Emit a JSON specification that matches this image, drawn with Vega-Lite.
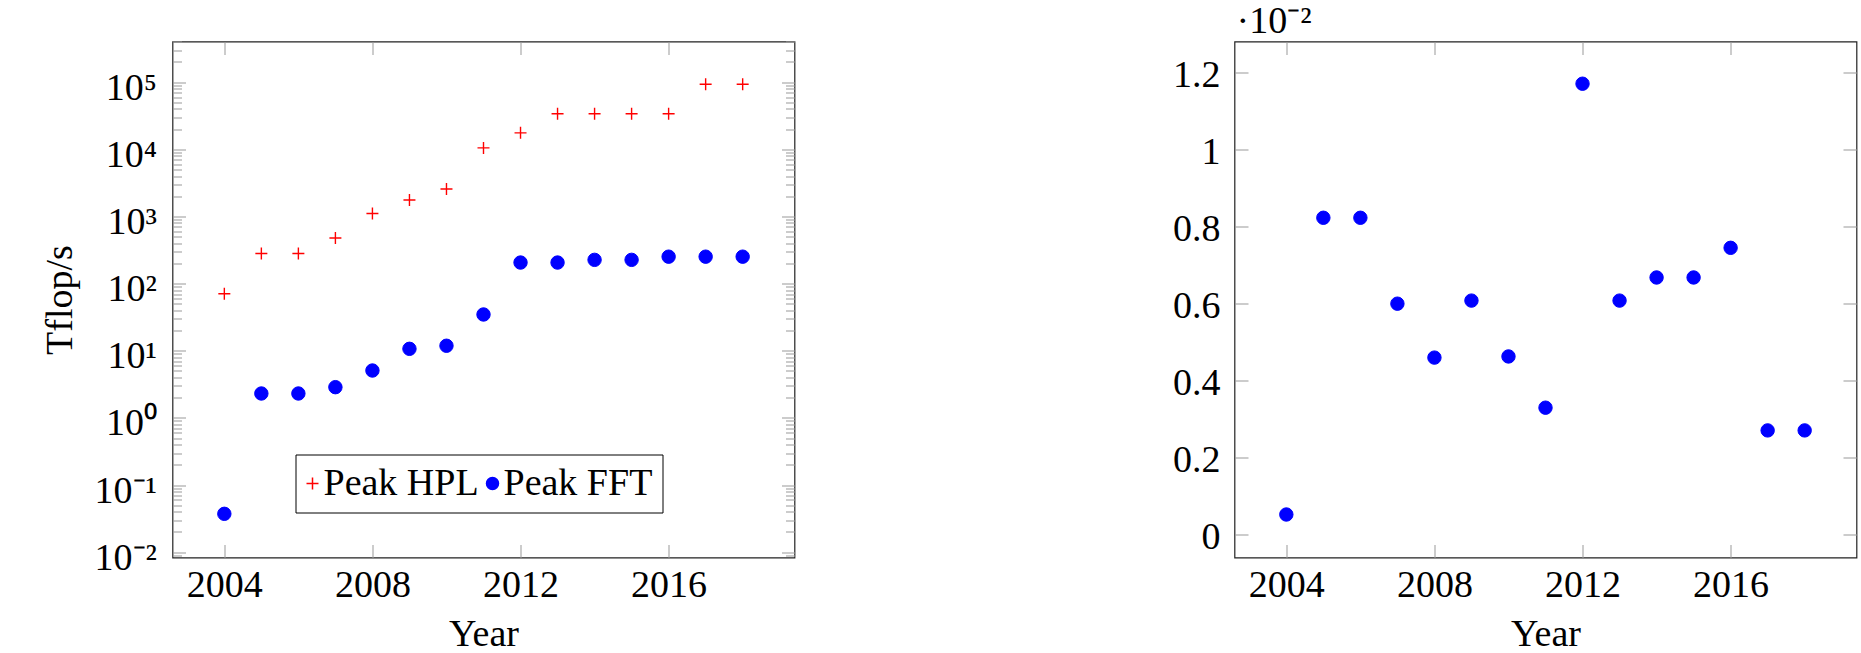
{
  "$schema": "https://vega.github.io/schema/vega-lite/v6.json",
  "background": "white",
  "autosize": {"type": "pad"},
  "padding": {"left": 40.5, "top": 1.5, "right": 2, "bottom": 0},
  "config": {
    "view": {"stroke": "#222222", "strokeWidth": 1.2},
    "font": "Liberation Serif",
    "axis": {"grid": false, "domain": false, "labelFont": "Liberation Serif", "labelFontSize": 38, "labelColor": "black", "titleFont": "Liberation Serif", "titleFontSize": 38, "titleFontWeight": "normal", "titleColor": "black", "tickColor": "#999999", "tickWidth": 1, "labelOverlap": false, "labelFlush": false}
  },
  "datasets": {
    "tflops": [
      {"year": 2004, "series": "Peak HPL", "tflops": 70.72},
      {"year": 2005, "series": "Peak HPL", "tflops": 280.6},
      {"year": 2006, "series": "Peak HPL", "tflops": 280.6},
      {"year": 2007, "series": "Peak HPL", "tflops": 478.2},
      {"year": 2008, "series": "Peak HPL", "tflops": 1105},
      {"year": 2009, "series": "Peak HPL", "tflops": 1759},
      {"year": 2010, "series": "Peak HPL", "tflops": 2566},
      {"year": 2011, "series": "Peak HPL", "tflops": 10510},
      {"year": 2012, "series": "Peak HPL", "tflops": 17590},
      {"year": 2013, "series": "Peak HPL", "tflops": 33860},
      {"year": 2014, "series": "Peak HPL", "tflops": 33860},
      {"year": 2015, "series": "Peak HPL", "tflops": 33860},
      {"year": 2016, "series": "Peak HPL", "tflops": 33860},
      {"year": 2017, "series": "Peak HPL", "tflops": 93010},
      {"year": 2018, "series": "Peak HPL", "tflops": 93010},
      {"year": 2004, "series": "Peak FFT", "tflops": 0.0373},
      {"year": 2005, "series": "Peak FFT", "tflops": 2.31},
      {"year": 2006, "series": "Peak FFT", "tflops": 2.31},
      {"year": 2007, "series": "Peak FFT", "tflops": 2.87},
      {"year": 2008, "series": "Peak FFT", "tflops": 5.08},
      {"year": 2009, "series": "Peak FFT", "tflops": 10.69},
      {"year": 2010, "series": "Peak FFT", "tflops": 11.88},
      {"year": 2011, "series": "Peak FFT", "tflops": 34.7},
      {"year": 2012, "series": "Peak FFT", "tflops": 206},
      {"year": 2013, "series": "Peak FFT", "tflops": 206},
      {"year": 2014, "series": "Peak FFT", "tflops": 226},
      {"year": 2015, "series": "Peak FFT", "tflops": 226},
      {"year": 2016, "series": "Peak FFT", "tflops": 252},
      {"year": 2017, "series": "Peak FFT", "tflops": 252},
      {"year": 2018, "series": "Peak FFT", "tflops": 252}
    ],
    "ratio": [
      {"year": 2004, "ratio": 0.000527},
      {"year": 2005, "ratio": 0.00823},
      {"year": 2006, "ratio": 0.00823},
      {"year": 2007, "ratio": 0.0060},
      {"year": 2008, "ratio": 0.00460},
      {"year": 2009, "ratio": 0.00608},
      {"year": 2010, "ratio": 0.00463},
      {"year": 2011, "ratio": 0.00330},
      {"year": 2012, "ratio": 0.01171},
      {"year": 2013, "ratio": 0.00608},
      {"year": 2014, "ratio": 0.00668},
      {"year": 2015, "ratio": 0.00668},
      {"year": 2016, "ratio": 0.00745},
      {"year": 2017, "ratio": 0.00271},
      {"year": 2018, "ratio": 0.00271}
    ]
  },
  "spacing": 440,
  "bounds": "flush",
  "hconcat": [
    {
      "width": 622,
      "height": 516,
      "data": {"name": "tflops"},
      "resolve": {"axis": {"x": "independent", "y": "independent"}},
      "layer": [
        {
          "transform": [{"filter": "datum.series === 'Peak HPL'"}],
          "mark": {"type": "point", "filled": true, "opacity": 1, "size": 144, "strokeWidth": 1.4},
          "encoding": {
            "x": {"field": "year", "type": "quantitative",
              "scale": {"domain": [2002.6, 2019.4], "nice": false, "zero": false},
              "axis": {"orient": "bottom", "values": [2004, 2008, 2012, 2016], "format": "d", "tickSize": -13, "labelPadding": 22, "labelBaseline": "top", "title": "Year", "titleY": 88, "titleBaseline": "alphabetic"}},
            "y": {"field": "tflops", "type": "quantitative",
              "scale": {"type": "log", "domain": [0.00834, 403600], "nice": false},
              "axis": {"orient": "left", "values": [0.01, 0.1, 1, 10, 100, 1000, 10000, 100000], "labelExpr": "['10⁻²','10⁻¹','10⁰','10¹','10²','10³','10⁴','10⁵'][round(log(datum.value)/LN10)+2]", "tickSize": -13, "labelPadding": 29, "labelBaseline": "alphabetic", "labelOffset": 17, "title": "Tflop/s", "titleX": -101, "titleY": 258, "titleAngle": 270, "titleAlign": "center", "titleBaseline": "alphabetic"}},
            "fill": {"field": "series", "type": "nominal",
              "scale": {"domain": ["Peak HPL", "Peak FFT"], "range": ["#ff0000", "#0000ff"]},
              "legend": {"title": null, "orient": "none", "legendX": 123, "legendY": 413, "direction": "horizontal", "strokeColor": "black", "fillColor": "white", "padding": 10, "labelFont": "Liberation Serif", "labelFontSize": 38, "labelColor": "black", "symbolSize": 144, "symbolStrokeWidth": 1.5, "symbolOffset": -12, "labelOffset": -8, "columnPadding": 4, "cornerRadius": 0, "labelLimit": 0}},
            "stroke": {"field": "series", "type": "nominal",
              "scale": {"domain": ["Peak HPL", "Peak FFT"], "range": ["#ff0000", "#0000ff"]},
              "legend": {"title": null, "orient": "none", "legendX": 123, "legendY": 413, "direction": "horizontal", "strokeColor": "black", "fillColor": "white", "padding": 10, "labelFont": "Liberation Serif", "labelFontSize": 38, "labelColor": "black", "symbolSize": 144, "symbolStrokeWidth": 1.5, "symbolOffset": -12, "labelOffset": -8, "columnPadding": 4, "cornerRadius": 0, "labelLimit": 0}},
            "shape": {"field": "series", "type": "nominal",
              "scale": {"domain": ["Peak HPL", "Peak FFT"], "range": ["M-1,0H1M0,-1V1", "circle"]},
              "legend": {"title": null, "orient": "none", "legendX": 123, "legendY": 413, "direction": "horizontal", "strokeColor": "black", "fillColor": "white", "padding": 10, "labelFont": "Liberation Serif", "labelFontSize": 38, "labelColor": "black", "symbolSize": 144, "symbolStrokeWidth": 1.5, "symbolOffset": -12, "labelOffset": -8, "columnPadding": 4, "cornerRadius": 0, "labelLimit": 0}}
          }
        },
        {
          "transform": [{"filter": "datum.series === 'Peak FFT'"}],
          "mark": {"type": "point", "filled": true, "opacity": 1, "size": 180, "strokeWidth": 1},
          "encoding": {
            "x": {"field": "year", "type": "quantitative",
              "scale": {"domain": [2002.6, 2019.4], "nice": false, "zero": false},
              "axis": {"orient": "top", "values": [2004, 2008, 2012, 2016], "labels": false, "tickSize": -13, "title": null, "minExtent": 0, "maxExtent": 0}},
            "y": {"field": "tflops", "type": "quantitative",
              "scale": {"type": "log", "domain": [0.00834, 403600], "nice": false},
              "axis": {"orient": "right", "values": [0.01, 0.1, 1, 10, 100, 1000, 10000, 100000], "labels": false, "tickSize": -13, "title": null, "minExtent": 0, "maxExtent": 0}},
            "fill": {"field": "series", "type": "nominal",
              "scale": {"domain": ["Peak HPL", "Peak FFT"], "range": ["#ff0000", "#0000ff"]}},
            "stroke": {"field": "series", "type": "nominal",
              "scale": {"domain": ["Peak HPL", "Peak FFT"], "range": ["#ff0000", "#0000ff"]}},
            "shape": {"field": "series", "type": "nominal",
              "scale": {"domain": ["Peak HPL", "Peak FFT"], "range": ["M-1,0H1M0,-1V1", "circle"]}}
          }
        },
        {
          "mark": {"type": "point", "opacity": 0},
          "encoding": {
            "x": {"field": "year", "type": "quantitative", "scale": {"domain": [2002.6, 2019.4], "nice": false, "zero": false}, "axis": null},
            "y": {"field": "tflops", "type": "quantitative",
              "scale": {"type": "log", "domain": [0.00834, 403600], "nice": false},
              "axis": {"orient": "left", "values": [0.009, 0.02, 0.03, 0.04, 0.05, 0.06, 0.07, 0.08, 0.09, 0.2, 0.3, 0.4, 0.5, 0.6, 0.7, 0.8, 0.9, 2, 3, 4, 5, 6, 7, 8, 9, 20, 30, 40, 50, 60, 70, 80, 90, 200, 300, 400, 500, 600, 700, 800, 900, 2000, 3000, 4000, 5000, 6000, 7000, 8000, 9000, 20000, 30000, 40000, 50000, 60000, 70000, 80000, 90000, 200000, 300000, 400000], "labels": false, "tickSize": -9, "title": null, "minExtent": 0, "maxExtent": 0}}
          }
        },
        {
          "mark": {"type": "point", "opacity": 0},
          "encoding": {
            "x": {"field": "year", "type": "quantitative", "scale": {"domain": [2002.6, 2019.4], "nice": false, "zero": false}, "axis": null},
            "y": {"field": "tflops", "type": "quantitative",
              "scale": {"type": "log", "domain": [0.00834, 403600], "nice": false},
              "axis": {"orient": "right", "values": [0.009, 0.02, 0.03, 0.04, 0.05, 0.06, 0.07, 0.08, 0.09, 0.2, 0.3, 0.4, 0.5, 0.6, 0.7, 0.8, 0.9, 2, 3, 4, 5, 6, 7, 8, 9, 20, 30, 40, 50, 60, 70, 80, 90, 200, 300, 400, 500, 600, 700, 800, 900, 2000, 3000, 4000, 5000, 6000, 7000, 8000, 9000, 20000, 30000, 40000, 50000, 60000, 70000, 80000, 90000, 200000, 300000, 400000], "labels": false, "tickSize": -9, "title": null, "minExtent": 0, "maxExtent": 0}}
          }
        }
      ]
    },
    {
      "width": 622,
      "height": 516,
      "data": {"name": "ratio"},
      "title": {"text": "·10⁻²", "anchor": "start", "frame": "group", "baseline": "alphabetic", "offset": -30, "dx": 2, "fontSize": 38, "font": "Liberation Serif", "fontWeight": "normal", "color": "black"},
      "resolve": {"axis": {"x": "independent", "y": "independent"}},
      "layer": [
        {
          "mark": {"type": "point", "filled": true, "opacity": 1, "size": 180, "strokeWidth": 1, "color": "#0000ff", "stroke": "#0000ff"},
          "encoding": {
            "x": {"field": "year", "type": "quantitative",
              "scale": {"domain": [2002.6, 2019.4], "nice": false, "zero": false},
              "axis": {"orient": "bottom", "values": [2004, 2008, 2012, 2016], "format": "d", "tickSize": -13, "labelPadding": 22, "labelBaseline": "top", "title": "Year", "titleY": 88, "titleBaseline": "alphabetic"}},
            "y": {"field": "ratio", "type": "quantitative",
              "scale": {"domain": [-0.000589, 0.012806], "nice": false, "zero": false},
              "axis": {"orient": "left", "values": [0, 0.002, 0.004, 0.006, 0.008, 0.01, 0.012], "labelExpr": "format(datum.value*100, '~g')", "tickSize": -13.5, "labelPadding": 28, "labelBaseline": "alphabetic", "labelOffset": 14, "title": null}}
          }
        },
        {
          "mark": {"type": "point", "opacity": 0},
          "encoding": {
            "x": {"field": "year", "type": "quantitative",
              "scale": {"domain": [2002.6, 2019.4], "nice": false, "zero": false},
              "axis": {"orient": "top", "values": [2004, 2008, 2012, 2016], "labels": false, "tickSize": -13, "title": null, "minExtent": 0, "maxExtent": 0}},
            "y": {"field": "ratio", "type": "quantitative",
              "scale": {"domain": [-0.000589, 0.012806], "nice": false, "zero": false},
              "axis": {"orient": "right", "values": [0, 0.002, 0.004, 0.006, 0.008, 0.01, 0.012], "labels": false, "tickSize": -13.5, "title": null, "minExtent": 0, "maxExtent": 0}}
          }
        }
      ]
    }
  ]
}
